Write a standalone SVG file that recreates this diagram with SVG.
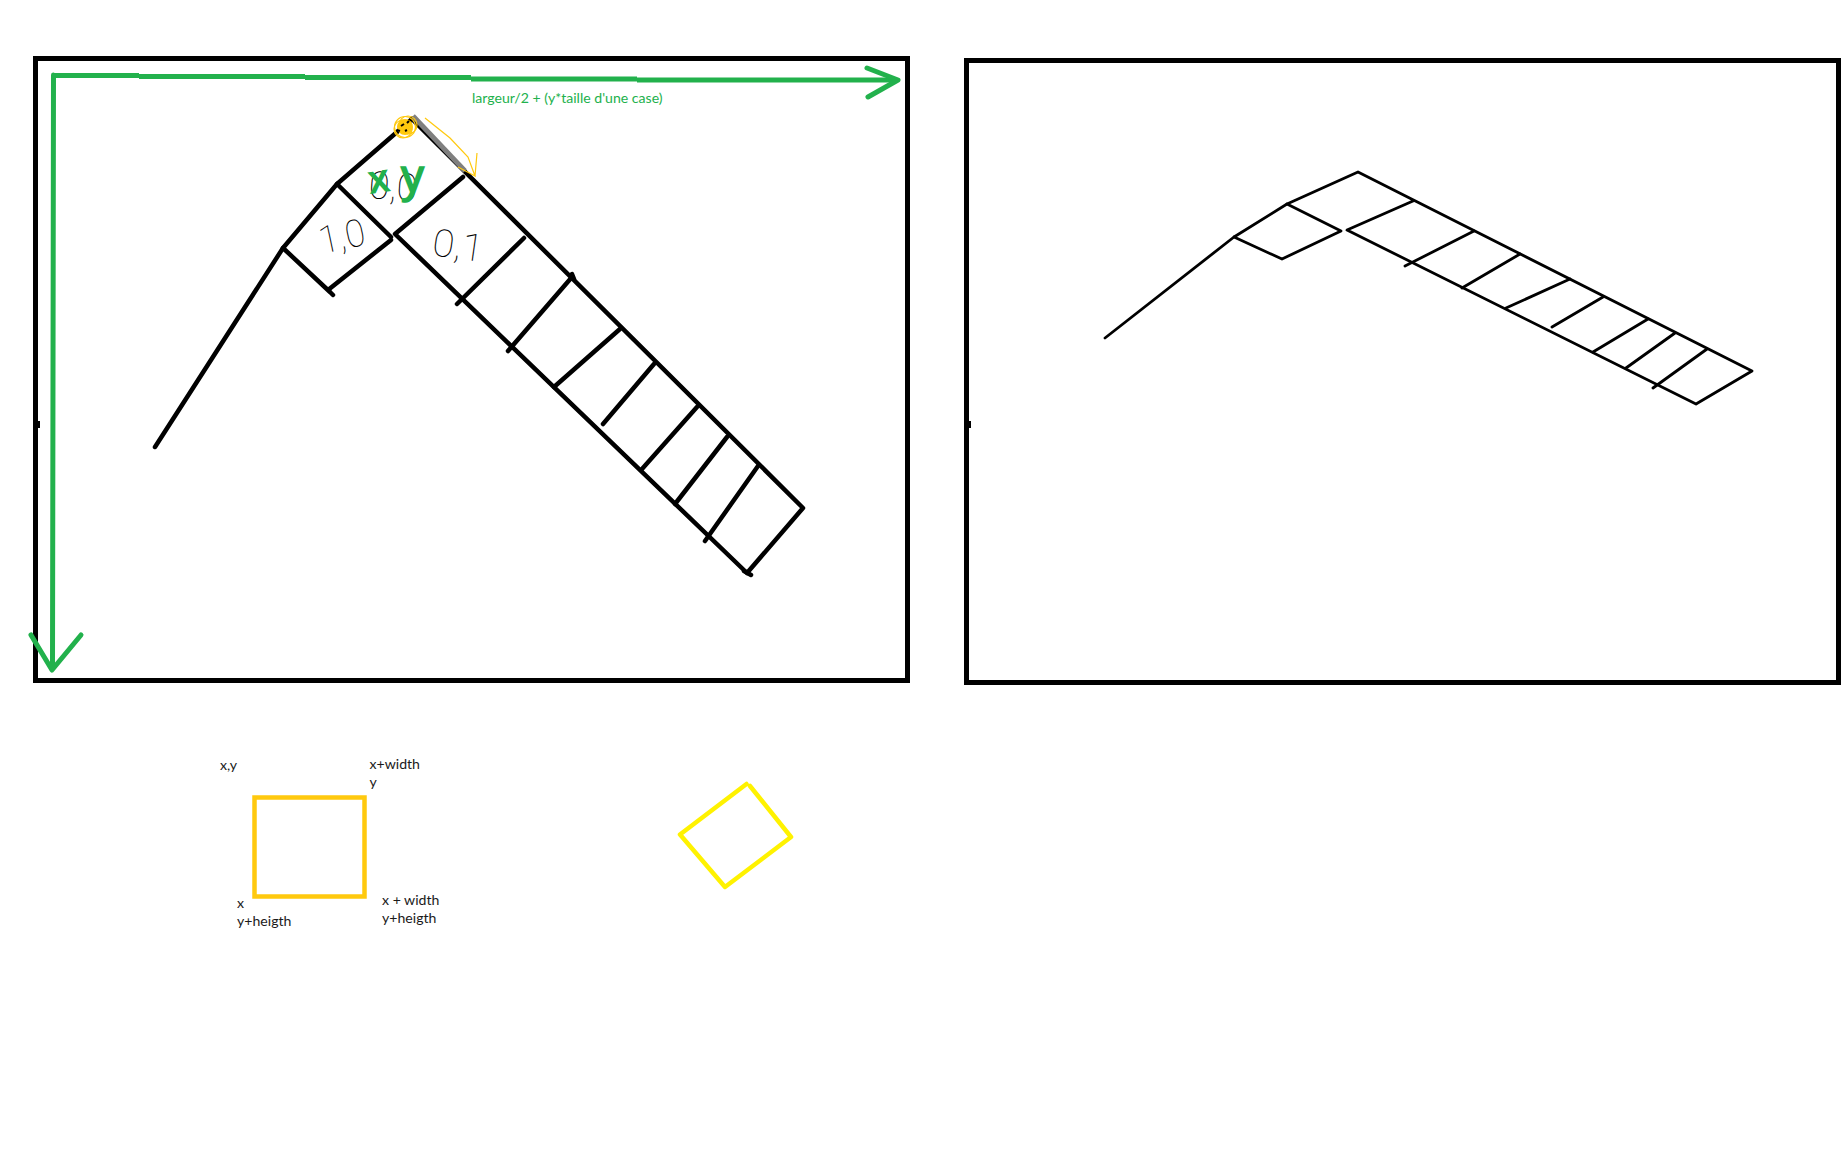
<svg xmlns="http://www.w3.org/2000/svg" width="1845" height="1155" viewBox="0 0 1845 1155">
<style>
.frame{fill:none;stroke:#000;stroke-width:5}
.ink{fill:none;stroke:#000;stroke-width:4.5;stroke-linecap:round;stroke-linejoin:round}
.ink2{fill:none;stroke:#000;stroke-width:2.8;stroke-linecap:round;stroke-linejoin:round}
.green{fill:none;stroke:#22b14c;stroke-width:5;stroke-linecap:round;stroke-linejoin:round}
.thin{fill:none;stroke:#ffc90e;stroke-width:1.2}
.lbl{font-family:Lato,"Open Sans",sans-serif;font-size:14.1px;fill:#1a1a1a}
.hand{font-family:Roboto,"Liberation Sans",sans-serif;font-weight:100;font-size:38px;fill:#000}
.mark{font-family:"Liberation Sans",Arial,sans-serif;font-weight:400;fill:#22b14c;stroke:#22b14c;stroke-width:1.6}
</style>
<rect width="1845" height="1155" fill="#fff"/>
<g id="left-frame">
<rect class="frame" x="35.5" y="58.5" width="872" height="622"/>
<rect x="38" y="421" width="2" height="7" fill="#000"/>
</g>
<g id="right-frame">
<rect class="frame" x="966.5" y="60.5" width="872" height="622"/>
<rect x="969" y="421" width="2" height="7" fill="#000"/>
</g>
<g id="left-grid">
<path d="M412,119 L803,508 L747,573 L395,234 L463,177" class="ink"/>
<path d="M412,119 L337,184 L283,248 L155,447" class="ink"/>
<path d="M337,184 L391,237 M283,248 L330,292 M333,295 L328,290 L391,240" class="ink"/>
<path d="M524,238 L457,304 M572,277 L508,351 M620,329 L554,387 M654,364 L603,424 M697,407 L642,469 M727,437 L675,504 M758,466 L705,541" class="ink"/>
<path d="M744,571 L751,575 M572,274 L574,279" class="ink"/>
<path d="M413,116 L465,171" fill="none" stroke="#7f7f7f" stroke-width="5"/>
</g>
<g id="right-grid">
<path d="M1105,338 L1234,237 L1287,204 L1358,172 L1752,371 L1696,404 L1347,230 L1413,201" class="ink2"/>
<path d="M1287,204 L1341,231 L1282,259 L1234,237" class="ink2"/>
<path d="M1474,231 L1405,266 M1520,254 L1462,288 M1570,279 L1506,308 M1603,297 L1552,327 M1648,319 L1593,352 M1675,333 L1626,368 M1707,349 L1653,388" class="ink2"/>
</g>
<g id="axes">
<path class="green" style="stroke-linecap:butt" d="M53,75.5 H139 M139,76.5 H305 M305,77.5 H471 M471,79 H637 M637,80 H895"/>
<path class="green" d="M53.5,75 L52.5,668"/>
<path class="green" d="M867,68 L898,80 L868,97"/>
<path class="green" d="M31,635 L52,670 L81,635"/>
<text x="472" y="103" style="font-family:Lato,'Open Sans',sans-serif;font-size:14.1px;fill:#22b14c">largeur/2 + (y*taille d'une case)</text>
</g>
<g id="cell-labels">
<text class="hand" transform="translate(322,254) rotate(-12) scale(.95,1)">1,0</text>
<text class="hand" transform="translate(431,255) rotate(8) scale(1.05,1)">0,1</text>
<text class="hand" transform="translate(368,198) rotate(4) scale(1,1)">0,0</text>
<text class="mark" font-size="38" transform="translate(371,193) rotate(-8)">x</text>
<text class="mark" font-size="46" transform="translate(401,192)">y</text>
</g>
<g id="origin-mark">
<circle cx="405" cy="127" r="8" fill="#ffc90e"/>
<circle cx="405" cy="127" r="10.5" class="thin"/>
<circle cx="403" cy="129" r="9" class="thin"/>
<circle cx="408" cy="125" r="9" class="thin"/>
<path d="M401,126 L404,124 M407,123 L409,121 M397,130 L400,131 M405,131 L407,130" stroke="#000" stroke-width="2"/>
<path class="thin" d="M425,118 L450,138 L468,157 L475,176 L458,167 M475,176 L477,153"/>
</g>
<g id="square">
<rect x="254.5" y="797.5" width="110" height="99" fill="none" stroke="#ffc90e" stroke-width="4.5"/>
</g>
<g id="square-labels">
<text class="lbl" x="220" y="770">x,y</text>
<text class="lbl" x="369.5" y="769">x+width</text>
<text class="lbl" x="369.5" y="787">y</text>
<text class="lbl" x="237" y="908">x</text>
<text class="lbl" x="237" y="926">y+heigth</text>
<text class="lbl" x="382" y="905">x + width</text>
<text class="lbl" x="382" y="923">y+heigth</text>
</g>
<g id="rotated-square">
<path d="M746.5,784 L680,834.5 L725,887 L791,837 M791,837 L750,786" fill="none" stroke="#fff200" stroke-width="4.5" stroke-linecap="round" stroke-linejoin="round"/>
</g>
</svg>
